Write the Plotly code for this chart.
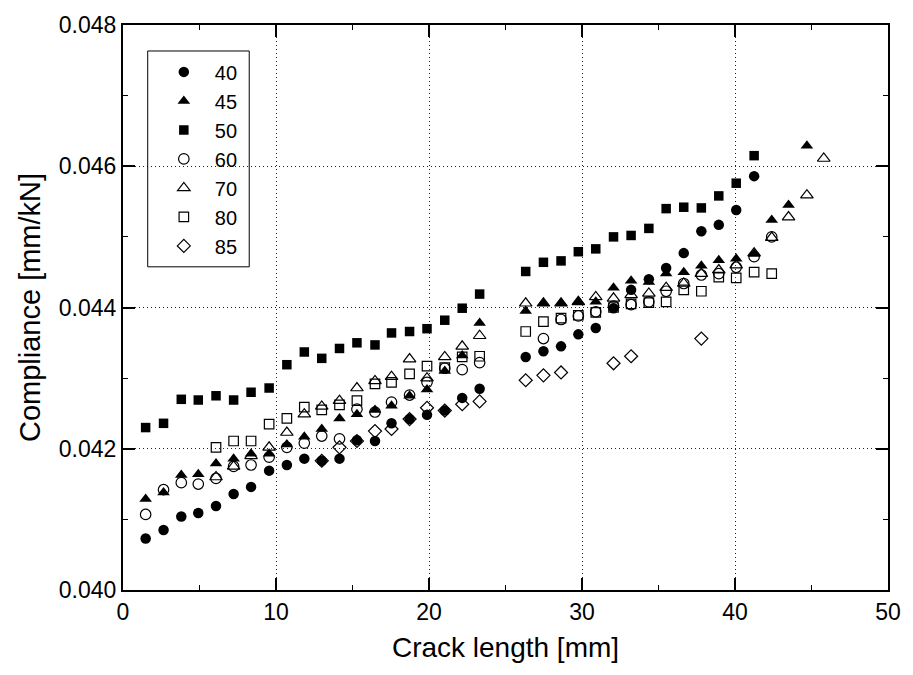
import plotly.graph_objects as go

# Crack length positions [mm]
xl = [1.48, 2.65, 3.81, 4.92, 6.08, 7.23, 8.37, 9.55, 10.71, 11.85, 12.99, 14.15,
      15.29, 16.47, 17.55, 18.73, 19.87, 21.03, 22.17, 23.31]
xr = [26.32, 27.48, 28.63, 29.76, 30.9, 32.06, 33.21, 34.37, 35.5, 36.65, 37.8,
      38.94, 40.08, 41.25]
xe = [42.4, 43.5, 44.7, 45.8]

x40 = xl + xr
y40 = [0.04073, 0.04085, 0.04104, 0.04109, 0.04119, 0.04136, 0.04146, 0.04169, 0.04177, 0.04186,
       0.04183, 0.04186, 0.04212, 0.04211, 0.04236, 0.04242, 0.04248, 0.04254, 0.04272, 0.04285,
       0.04330, 0.04338, 0.04345, 0.04362, 0.04371, 0.04399, 0.04425, 0.04440, 0.04456, 0.04477,
       0.04508, 0.04517, 0.04538, 0.04586]

x45 = xl + xr + xe[:3]
y45 = [0.04129, 0.04138, 0.04163, 0.04164, 0.04179, 0.04186, 0.04193, 0.04193, 0.04206, 0.04217,
       0.04228, 0.04243, 0.04249, 0.04255, 0.04261, 0.04275, 0.04284, 0.04310, 0.04332, 0.04378,
       0.04395, 0.04406, 0.04406, 0.04408, 0.04408, 0.04428, 0.04438, 0.04436, 0.04448, 0.04450,
       0.04459, 0.04467, 0.04469, 0.04476, 0.04524, 0.04545, 0.04629]

x50 = xl + xr
y50 = [0.04230, 0.04236, 0.04270, 0.04269, 0.04275, 0.04269, 0.04280, 0.04286, 0.04319, 0.04337,
       0.04328, 0.04342, 0.04350, 0.04347, 0.04364, 0.04366, 0.04370, 0.04382, 0.04399, 0.04419,
       0.04451, 0.04464, 0.04466, 0.04479, 0.04483, 0.04500, 0.04502, 0.04512, 0.04540, 0.04542,
       0.04541, 0.04558, 0.04576, 0.04615]

x60 = xl + xr[1:] + xe[:1]
y60 = [0.04107, 0.04142, 0.04152, 0.04150, 0.04158, 0.04175, 0.04177, 0.04188, 0.04202, 0.04208,
       0.04218, 0.04214, 0.04256, 0.04252, 0.04266, 0.04276, 0.04294, 0.04314, 0.04312, 0.04322,
       0.04356, 0.04383, 0.04388, 0.04394, 0.04402, 0.04404, 0.04408, 0.04423, 0.04434, 0.04446,
       0.04448, 0.04457, 0.04472, 0.04500]

x70 = xl[4:] + xr + xe
y70 = [0.04160, 0.04175, 0.04190, 0.04202, 0.04223, 0.04249, 0.04260, 0.04268, 0.04286, 0.04296,
       0.04302, 0.04327, 0.04300, 0.04330, 0.04345, 0.04360,
       0.04406, 0.04406, 0.04406, 0.04408, 0.04415, 0.04413, 0.04418, 0.04420, 0.04428, 0.04434,
       0.04448, 0.04453, 0.04460, 0.04477, 0.04499, 0.04528, 0.04559, 0.04611]

x80 = xl[4:] + xr + xe[:1]
y80 = [0.04202, 0.04211, 0.04211, 0.04235, 0.04243, 0.04259, 0.04255, 0.04262, 0.04268, 0.04292,
       0.04294, 0.04306, 0.04317, 0.04315, 0.04330, 0.04331,
       0.04366, 0.04380, 0.04385, 0.04389, 0.04393, 0.04400, 0.04405, 0.04407, 0.04408, 0.04425,
       0.04423, 0.04443, 0.04442, 0.04450, 0.04448]

x85 = xl[10:] + [26.32, 27.48, 28.63, 32.06, 33.21, 37.8]
y85 = [0.04183, 0.04202, 0.04211, 0.04225, 0.04228, 0.04242, 0.04258, 0.04254, 0.04263, 0.04267,
       0.04297, 0.04304, 0.04308, 0.04321, 0.04331, 0.04356]

series = [
    ("40", x40, y40, "circle", 10.5),
    ("45", x45, y45, "triangle-up", 11),
    ("50", x50, y50, "square", 9.5),
    ("60", x60, y60, "circle-open", 10.5),
    ("70", x70, y70, "triangle-up-open", 11),
    ("80", x80, y80, "square-open", 9.5),
    ("85", x85, y85, "diamond-open", 10),
]

fig = go.Figure()
for i, (name, xs, ys, sym, sz) in enumerate(series):
    openm = sym.endswith("open")
    fig.add_trace(go.Scatter(
        x=xs, y=ys, mode="markers", name=name, legendgroup="g%d" % i,
        marker=dict(symbol=sym, size=sz, color="black",
                    line=dict(color="black", width=1.2 if openm else 0)),
    ))

font_family = "Liberation Sans, Arial, sans-serif"
axis_common = dict(
    showline=True, linewidth=2, linecolor="black", mirror="ticks",
    ticks="inside", ticklen=12, tickwidth=2, tickcolor="black",
    showgrid=True, gridcolor="#222222", gridwidth=1, griddash="1px,3px",
    zeroline=False,
    tickfont=dict(family=font_family, size=23, color="black"),
)

fig.update_xaxes(
    range=[0, 50], dtick=10, tick0=0,
    minor=dict(dtick=5, ticks="inside", ticklen=5, tickwidth=1, tickcolor="black", showgrid=False),
    title=dict(text="Crack length [mm]", font=dict(family=font_family, size=28, color="black"), standoff=14),
    **axis_common,
)
fig.update_yaxes(
    range=[0.040, 0.048], dtick=0.002, tick0=0.040, tickformat=".3f",
    minor=dict(dtick=0.001, ticks="inside", ticklen=5, tickwidth=1, tickcolor="black", showgrid=False),
    title=dict(text="Compliance [mm/kN]", font=dict(family=font_family, size=29, color="black"), standoff=10),
    **axis_common,
)

fig.add_shape(type="rect", xref="paper", yref="paper",
              x0=0.0323, x1=0.165, y0=0.572, y1=0.954,
              line=dict(color="black", width=1), fillcolor="rgba(0,0,0,0)", layer="above")

fig.update_layout(
    width=913, height=675,
    margin=dict(l=123, r=15, t=22, b=85),
    paper_bgcolor="white", plot_bgcolor="white",
    font=dict(family=font_family, color="black"),
    legend=dict(
        x=0.039, y=0.9515, xanchor="left", yanchor="top",
        bgcolor="rgba(0,0,0,0)", borderwidth=0,
        font=dict(family=font_family, size=20, color="black"),
        itemwidth=52, tracegroupgap=0,
    ),
    showlegend=True,
)

fig.write_html("out.html")
